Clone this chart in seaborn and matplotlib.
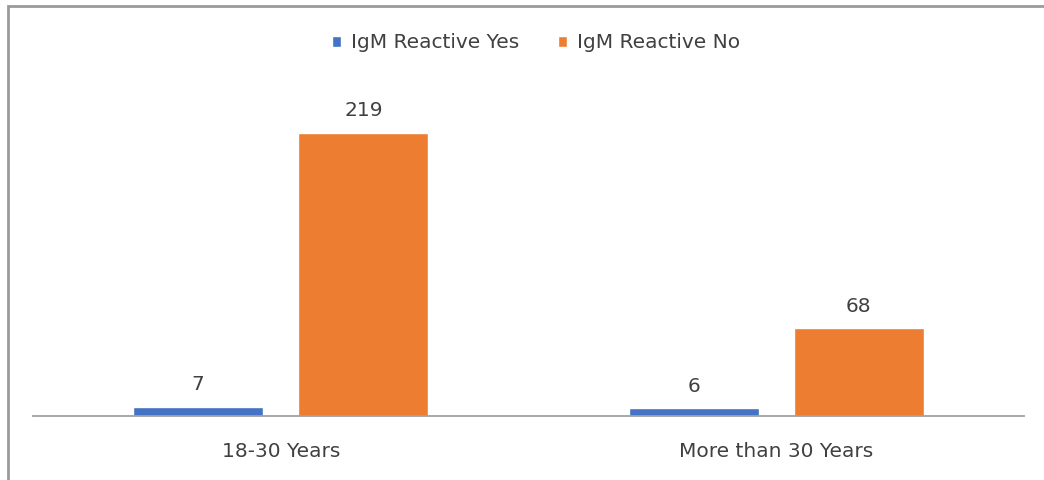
import matplotlib
matplotlib.use("Agg")
import matplotlib.pyplot as plt
from matplotlib.patches import Rectangle, Patch
import seaborn as sns
import pandas as pd

age_groups = ["18-30 Years", "More than 30 Years"]
series_names = ["IgM Reactive Yes", "IgM Reactive No"]
reactive_yes = [7, 6]
reactive_no = [219, 68]
colors = ["#4472C4", "#ED7D31"]

df = pd.DataFrame({
    "age": age_groups * 2,
    "series": [series_names[0]] * 2 + [series_names[1]] * 2,
    "count": reactive_yes + reactive_no,
})

sns.set_style("white")
plt.rcParams["font.family"] = ["DejaVu Sans"]
text_color = "#404040"
fsize = 14.5

fig = plt.figure(figsize=(10.44, 4.8), dpi=100)
ax = fig.add_axes([33 / 1044, 64 / 480, (1024 - 33) / 1044, (416 - 85) / 480])

sns.barplot(data=df, x="age", y="count", hue="series", palette=colors,
            width=0.666, gap=0.213, ax=ax, legend=False, saturation=1)

for cont in ax.containers:
    ax.bar_label(cont, padding=9, fontsize=fsize, color=text_color)

ax.set_ylim(0, 256)
ax.set_xlim(-0.5, 1.5)
ax.set_xlabel("")
ax.set_ylabel("")
ax.set_yticks([])
ax.tick_params(axis="x", length=0, pad=19, labelsize=fsize, labelcolor=text_color)
for side in ["top", "right", "left"]:
    ax.spines[side].set_visible(False)
ax.spines["bottom"].set_color("#a0a0a0")
ax.spines["bottom"].set_linewidth(1.3)

handles = [Patch(facecolor=c, label=n) for c, n in zip(colors, series_names)]
fig.legend(handles=handles, loc="center", bbox_to_anchor=(536 / 1044, 1 - 43 / 480),
           ncol=2, frameon=False, fontsize=fsize, handlelength=0.45, handleheight=0.45,
           handletextpad=0.5, columnspacing=1.9, labelcolor=text_color)

# chart frame (only top and left edges are visible in the crop)
fig.patches.append(Rectangle((7.5 / 1044, -0.1), 1.2, 1 - 5.5 / 480 + 0.1,
                             transform=fig.transFigure, fill=False,
                             edgecolor="#9a9a9a", linewidth=2, clip_on=False))

fig.savefig("out.png", dpi=100)
